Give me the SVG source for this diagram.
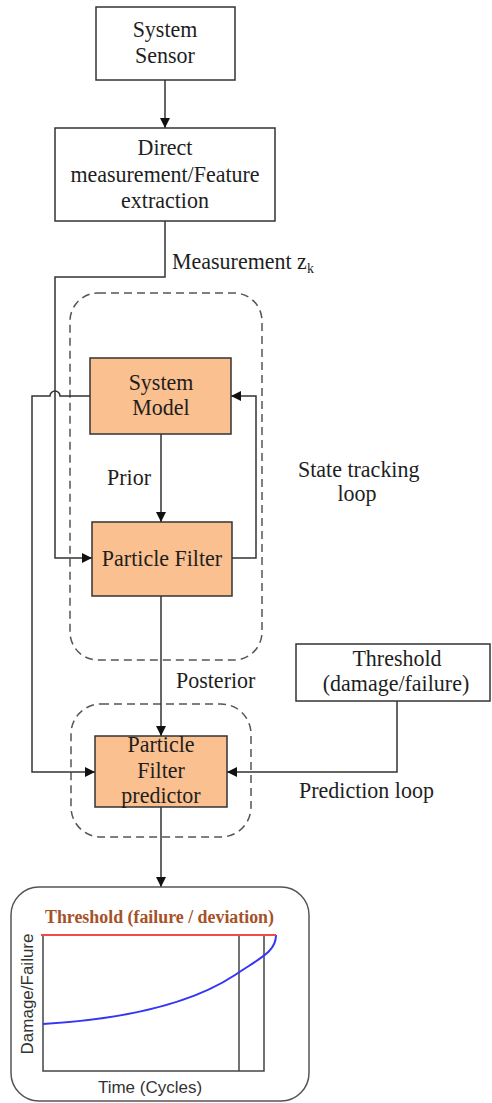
<svg xmlns="http://www.w3.org/2000/svg" width="492" height="1103" viewBox="0 0 492 1103">
  <style>
    .box { fill: #ffffff; stroke: #333333; stroke-width: 1.5; }
    .proc { fill: #FAC08F; stroke: #333333; stroke-width: 1.5; }
    .loop { fill: none; stroke: #555555; stroke-width: 1.5; stroke-dasharray: 8 5; }
    .wire { fill: none; stroke: #333333; stroke-width: 1.5; }
    .t { font-family: "Liberation Serif", "Times New Roman", serif; font-size: 22px; fill: #1e1e1e; }
    .c { text-anchor: middle; }
    .s { font-family: "Liberation Sans", Arial, sans-serif; font-size: 17px; fill: #333333; }
  </style>
  <defs>
    <marker id="arr" viewBox="0 0 10 10" refX="10" refY="5" markerWidth="10" markerHeight="10" markerUnits="userSpaceOnUse" orient="auto">
      <path d="M0,0 L10,5 L0,10 z" fill="#111111"/>
    </marker>
  </defs>

  <!-- loop outlines -->
  <rect class="loop" x="70" y="293" width="192" height="367" rx="28"/>
  <rect class="loop" x="71" y="704" width="180" height="133" rx="30"/>

  <!-- connectors -->
  <g id="connectors">
    <line class="wire" x1="165" y1="80" x2="165" y2="128" marker-end="url(#arr)"/>
    <path class="wire" d="M165,221 V277 H55 V558 H92" marker-end="url(#arr)"/>
    <path class="wire" d="M90,396 H60 A5,5 0 0 0 50,396 H32 V772 H95" marker-end="url(#arr)"/>
    <line class="wire" x1="161" y1="434" x2="161" y2="522" marker-end="url(#arr)"/>
    <path class="wire" d="M232,558 H256 V396 H231" marker-end="url(#arr)"/>
    <line class="wire" x1="161" y1="596" x2="161" y2="736" marker-end="url(#arr)"/>
    <path class="wire" d="M397,701 V772 H227" marker-end="url(#arr)"/>
    <line class="wire" x1="161" y1="807" x2="161" y2="887" marker-end="url(#arr)"/>
  </g>

  <!-- edge labels (serif text drawn slightly tall) -->
  <text class="t" transform="translate(172,269) scale(1,1.08)">Measurement z<tspan font-size="14" dy="4">k</tspan></text>
  <text class="t" transform="translate(107,485) scale(1,1.08)">Prior</text>
  <text class="t" transform="translate(176,688) scale(1,1.08)">Posterior</text>
  <text class="t" transform="translate(298,477) scale(1,1.08)">State tracking</text>
  <text class="t c" transform="translate(357,501) scale(1,1.08)">loop</text>
  <text class="t" transform="translate(299,798) scale(1,1.08)">Prediction loop</text>

  <g id="system-sensor">
    <rect class="box" x="96" y="7" width="139" height="73"/>
    <text class="t c" transform="translate(165,37) scale(1,1.08)">System</text>
    <text class="t c" transform="translate(165,63) scale(1,1.08)">Sensor</text>
  </g>

  <g id="feature-extraction">
    <rect class="box" x="55" y="128" width="220" height="93"/>
    <text class="t c" transform="translate(165,155) scale(1,1.08)">Direct</text>
    <text class="t c" transform="translate(165,182) scale(1,1.08)">measurement/Feature</text>
    <text class="t c" transform="translate(165,208) scale(1,1.08)">extraction</text>
  </g>

  <g id="system-model">
    <rect class="proc" x="90" y="358" width="141" height="76"/>
    <text class="t c" transform="translate(161,390) scale(1,1.08)">System</text>
    <text class="t c" transform="translate(161,415) scale(1,1.08)">Model</text>
  </g>

  <g id="particle-filter">
    <rect class="proc" x="92" y="522" width="140" height="74"/>
    <text class="t c" transform="translate(162,566) scale(1,1.08)">Particle Filter</text>
  </g>

  <g id="threshold">
    <rect class="box" x="296" y="644" width="194" height="57"/>
    <text class="t c" transform="translate(397,666) scale(1,1.08)">Threshold</text>
    <text class="t c" transform="translate(396,691) scale(1,1.08)">(damage/failure)</text>
  </g>

  <g id="pf-predictor">
    <rect class="proc" x="95" y="736" width="132" height="71"/>
    <text class="t c" transform="translate(161,752) scale(1,1.08)">Particle</text>
    <text class="t c" transform="translate(161,778) scale(1,1.08)">Filter</text>
    <text class="t c" transform="translate(161,803) scale(1,1.08)">predictor</text>
  </g>

  <g id="prognosis-chart">
    <rect x="11" y="887" width="298" height="214" rx="28" fill="#ffffff" stroke="#555555" stroke-width="1.5"/>
    <text x="45" y="923" font-family="Liberation Serif, 'Times New Roman', serif" font-weight="bold" font-size="18" fill="#A55228" textLength="229" lengthAdjust="spacingAndGlyphs">Threshold (failure / deviation)</text>
    <path d="M43,935 V1071 H264 V935" fill="none" stroke="#444444" stroke-width="1.5"/>
    <line x1="239" y1="935" x2="239" y2="1071" stroke="#444444" stroke-width="1.5"/>
    <path d="M43,1024 C110,1020 185,1008 235,975 C260,958 276,952 276,935" fill="none" stroke="#3535F5" stroke-width="2"/>
    <line x1="41" y1="935" x2="276" y2="935" stroke="#F24A4A" stroke-width="2"/>
    <text class="s" transform="translate(33,994) rotate(-90)" text-anchor="middle">Damage/Failure</text>
    <text class="s" x="150" y="1093" text-anchor="middle">Time (Cycles)</text>
  </g>
</svg>
